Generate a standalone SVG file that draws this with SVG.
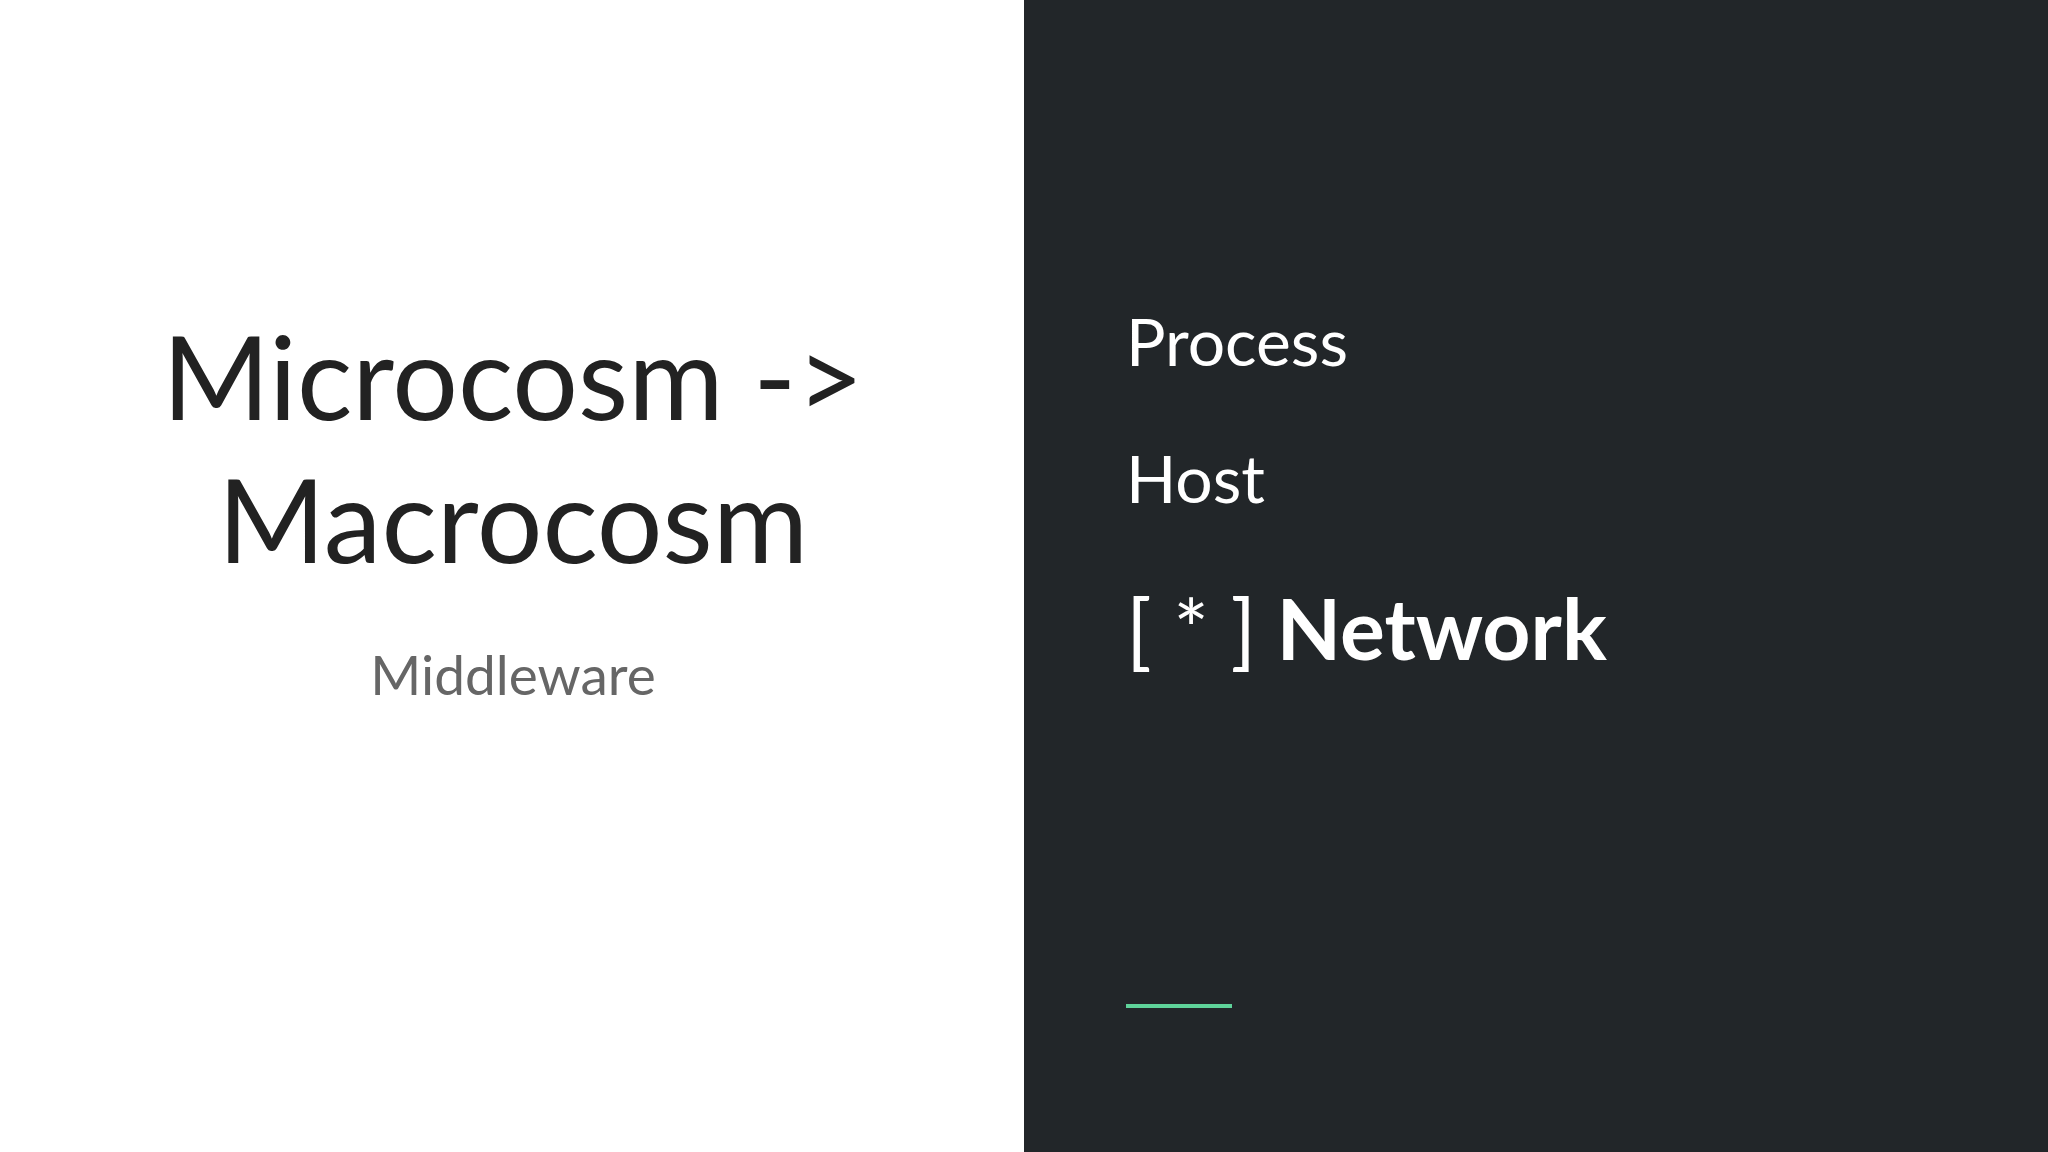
<svg xmlns="http://www.w3.org/2000/svg" width="2048" height="1152" viewBox="0 0 2048 1152">
<style>
.t{font-family:"Lato","Liberation Sans",sans-serif}
</style>
<rect width="2048" height="1152" fill="#ffffff"/>
<rect x="1024" y="0" width="1024" height="1152" fill="#222629"/>
<g id="title" class="t" fill="#222222" text-anchor="middle" font-size="116">
<text x="513" y="420">Microcosm -&gt;</text>
<text x="513" y="563">Macrocosm</text>
</g>
<g id="subtitle"><text class="t" x="513" y="695" text-anchor="middle" font-size="55" fill="#666666">Middleware</text></g>
<g id="list" class="t" fill="#ffffff">
<text x="1126" y="366" font-size="66">Process</text>
<text x="1126" y="503" font-size="66">Host</text>
<text x="1126" y="660" font-size="84" font-weight="bold"><tspan font-weight="normal">[ * ]</tspan> Network</text>
</g>
<line x1="1126" y1="1006" x2="1232" y2="1006" stroke="#5fd39a" stroke-width="4"/>
</svg>
